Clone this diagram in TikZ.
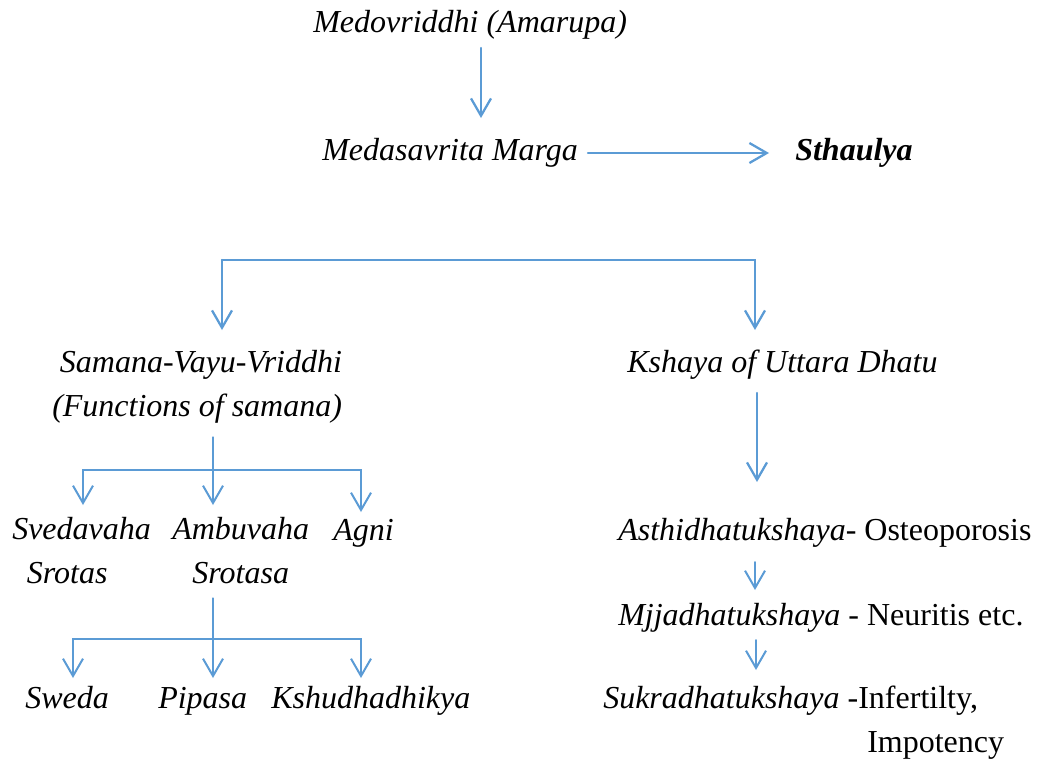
\documentclass[tikz,border=0pt]{standalone}
\usepackage{fontspec}
\setmainfont{Liberation Serif}
\usetikzlibrary{arrows.meta,calc}
\definecolor{linkblue}{HTML}{5B9BD5}
\tikzset{
  lbl/.style={anchor=base west, inner sep=0pt, font=\fontsize{24}{33}\selectfont\itshape},
  arr/.style={->, draw=linkblue, line width=1.7pt},
  subarr/.style={->, draw=linkblue, line width=1.5pt},
  stub/.style={draw=linkblue, line width=0.8pt}
}
\begin{document}
\begin{tikzpicture}[x=0.75pt, y=-0.75pt, >={Straight Barb[length=13pt,width=15pt]}, line cap=round]
  \useasboundingbox (0,0) rectangle (1037,761);
  % top chain
  \node[lbl] (medo) at (313,32) {Medovriddhi (Amarupa)};
  \node[lbl] (medas) at (322,160) {Medasavrita Marga};
  \node[lbl, font=\fontsize{24}{33}\selectfont\itshape\bfseries] (sthaulya) at (795,160) {Sthaulya};
  \draw[arr] ($(medo.base west)+(168,16)$) -- ($(medas.base west)+(159,-42)$);
  \draw[arr] ($(medas.base west)+(266,-7)$) -- ($(sthaulya.base west)+(-26,-7)$);
  % split
  \node[lbl, align=right] (samana) at (52,416) {Samana-Vayu-Vriddhi\\(Functions of samana)};
  \node[lbl] (kshaya) at (627,372) {Kshaya of Uttara Dhatu};
  \coordinate (splitL) at (222,260);
  \coordinate (splitR) at (755,260);
  \draw[arr] (splitL) -- (splitR) -- ($(kshaya.base west)+(128,-42)$);
  \draw[arr] (splitL) -- ($(samana.base west)+(170,-86)$);
  % left branch
  \node[lbl, align=left] (svedavaha) at (12,583) {Svedavaha\\\hspace*{11pt}Srotas};
  \node[lbl, align=center] (ambuvaha) at (172,583) {Ambuvaha\\Srotasa};
  \node[lbl] (agni) at (333,540) {Agni};
  \coordinate (hubA) at (213,470);
  \draw[stub] ($(samana.base west)+(161,21)$) -- (hubA);
  \draw[subarr] (hubA) -| ($(svedavaha.base west)+(71,-78)$);
  \draw[subarr] (hubA) -- ($(ambuvaha.base west)+(41,-78)$);
  \draw[subarr] (hubA) -| ($(agni.base west)+(28,-28)$);
  \node[lbl] (sweda) at (25,708) {Sweda};
  \node[lbl] (pipasa) at (158,708) {Pipasa};
  \node[lbl] (kshudha) at (271,708) {Kshudhadhikya};
  \coordinate (hubB) at (213,639);
  \draw[stub] ($(ambuvaha.base west)+(41,15)$) -- (hubB);
  \draw[subarr] (hubB) -| ($(sweda.base west)+(48,-30)$);
  \draw[subarr] (hubB) -- ($(pipasa.base west)+(55,-30)$);
  \draw[subarr] (hubB) -| ($(kshudha.base west)+(90,-30)$);
  % right branch
  \node[lbl] (asthi) at (618,540) {Asthidhatukshaya\upshape- Osteoporosis};
  \node[lbl] (majja) at (618,625) {Mjjadhatukshaya \upshape- Neuritis etc.};
  \node[lbl, align=left] (sukra) at (603,752) {Sukradhatukshaya \upshape-Infertilty,\\\hspace*{198pt}\upshape Impotency};
  \draw[arr] ($(kshaya.base west)+(130,21)$) -- ($(asthi.base west)+(139,-58)$);
  \draw[subarr] ($(asthi.base west)+(137,22)$) -- ($(majja.base west)+(137,-35)$);
  \draw[subarr] ($(majja.base west)+(138,15)$) -- ($(sukra.base west)+(153,-82)$);
\end{tikzpicture}
\end{document}
